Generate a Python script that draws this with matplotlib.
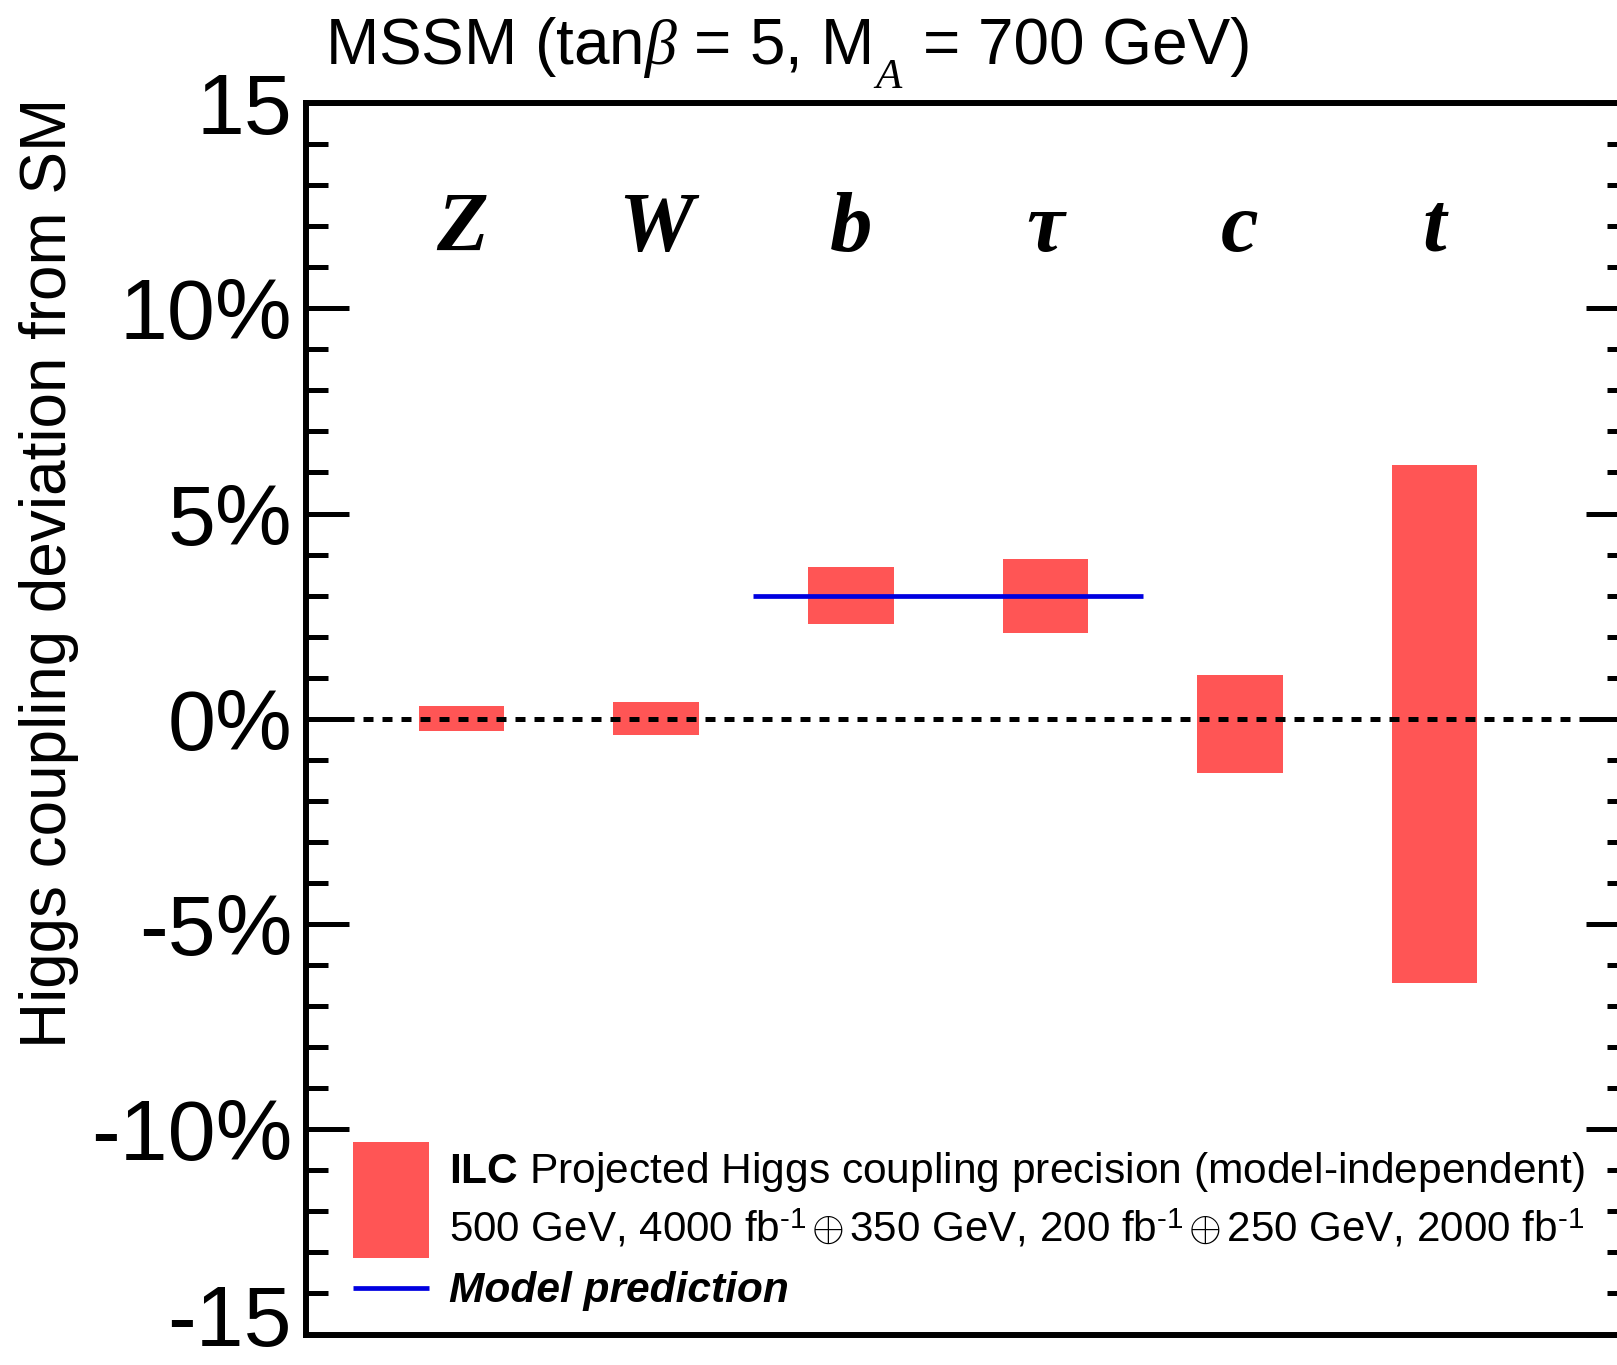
import matplotlib
matplotlib.use("Agg")
import matplotlib.pyplot as plt
from matplotlib.patches import Rectangle
from matplotlib.ticker import FixedLocator, MultipleLocator
from matplotlib.transforms import ScaledTranslation
import numpy as np

# Higgs couplings and projected precision bands (percent deviation from SM)
couplings = ["Z", "W", "b", "τ", "c", "t"]
central = [0.0, 0.0, 3.0, 3.0, -0.13, -0.13]
precision = [0.3, 0.4, 0.7, 0.9, 1.2, 6.3]

# MSSM prediction for the down-type couplings
model_value = 3.0
model_span = ["b", "τ"]

ytick_values = [-15, -10, -5, 0, 5, 10, 15]
ytick_labels = ["-15", "-10%", "-5%", "0%", "5%", "10%", "15"]

RED = "#ff5555"
BLUE = "#0000e0"

plt.rcParams["font.family"] = ["Liberation Sans", "DejaVu Sans"]
plt.rcParams["mathtext.fontset"] = "custom"
plt.rcParams["mathtext.rm"] = "Liberation Sans"
plt.rcParams["mathtext.it"] = "Liberation Serif:italic"
plt.rcParams["mathtext.bf"] = "Liberation Sans:bold"

W, H = 1617, 1365
fig = plt.figure(figsize=(W / 100, H / 100), dpi=100)
ax = fig.add_axes([306 / W, 30.5 / H, 1323 / W, 1231.5 / H])

x = np.arange(len(couplings))
c = np.array(central)
p = np.array(precision)
ax.bar(x, 2 * p, bottom=c - p, width=0.44, color=RED, linewidth=0, zorder=2)

ax.axhline(0, color="black", lw=3.6, linestyle=(0, (2, 1.8)), zorder=3)

i0, i1 = couplings.index(model_span[0]), couplings.index(model_span[1])
ax.plot([x[i0] - 0.5, x[i1] + 0.5], [model_value, model_value],
        color=BLUE, lw=3.4, solid_capstyle="butt", zorder=4)

for xi, name in zip(x, couplings):
    ax.text(xi, 11.4, name, ha="center", va="baseline", fontsize=61,
            fontweight="bold", fontstyle="italic", family="Liberation Serif")

ax.set_xlim(-0.8, 6.0)
ax.set_ylim(-15, 15)
ax.set_xticks([])
ax.yaxis.set_major_locator(FixedLocator(ytick_values))
ax.set_yticklabels(ytick_labels)
ax.yaxis.set_minor_locator(MultipleLocator(1))
ax.tick_params(axis="y", which="both", direction="in", left=True, right=True,
               width=3.6)
ax.tick_params(axis="y", which="major", length=31, labelsize=62, pad=10)
ax.tick_params(axis="y", which="minor", length=15.5)
for s in ax.spines.values():
    s.set_linewidth(4.3)

# Legend drawn by hand: a tall band swatch spanning two text lines
ax.add_patch(Rectangle((0.0355, 0.0621), 0.0575, 0.0942, transform=ax.transAxes,
                       facecolor=RED, linewidth=0, zorder=5))
ax.plot([0.0355, 0.093], [0.0378, 0.0378], transform=ax.transAxes,
        color=BLUE, lw=3.4, solid_capstyle="butt", zorder=5)
ax.text(0.108, 0.123,
        r"$\mathbf{ILC}$ Projected Higgs coupling precision (model-independent)",
        transform=ax.transAxes, fontsize=30.6, va="baseline")
ax.text(0.108, 0.0755,
        r"500 GeV, 4000 fb$^{\text{-1}}\,{\oplus}\,$350 GeV, "
        r"200 fb$^{\text{-1}}\,{\oplus}\,$250 GeV, 2000 fb$^{\text{-1}}$",
        transform=ax.transAxes, fontsize=30.3, va="baseline")
ax.text(0.108, 0.0264, "Model prediction", transform=ax.transAxes,
        fontsize=30.6, va="baseline", fontweight="bold", fontstyle="italic")

# Title with a ROOT-style dropped subscript on M_A
renderer = fig.canvas.get_renderer()
t1 = fig.text(325 / W, 1 - 64 / H, r"MSSM (tan$\beta$ = 5, M",
              fontsize=46, ha="left", va="baseline")
x_end = t1.get_window_extent(renderer).x1
t2 = fig.text((x_end + 5) / W, 1 - 88 / H, "A", fontsize=31,
              family="Liberation Serif", fontstyle="italic",
              ha="left", va="baseline")
x_end = t2.get_window_extent(renderer).x1
fig.text((x_end + 22) / W, 1 - 64 / H, "= 700 GeV)", fontsize=46,
         ha="left", va="baseline")

fig.text(49 / W, 1 - 572.5 / H, "Higgs coupling deviation from SM",
         rotation=90, fontsize=46, ha="center", va="center")

# Keep the lowest tick label inside the canvas
ticks = ax.yaxis.get_major_ticks(len(ytick_values))
fig.canvas.draw()
low = ticks[ytick_values.index(-15)].label1
y0 = low.get_window_extent(fig.canvas.get_renderer()).y0
if y0 < 1:
    shift = (1 - y0) / fig.dpi
    low.set_transform(low.get_transform()
                      + ScaledTranslation(0, shift, fig.dpi_scale_trans))

fig.savefig("out.png", dpi=100)
